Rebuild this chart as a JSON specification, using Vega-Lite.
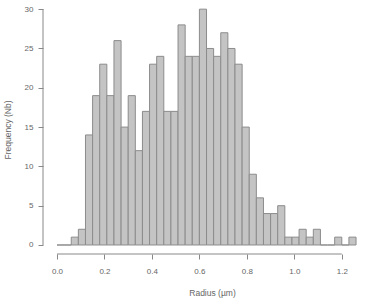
{
  "$schema": "https://vega.github.io/schema/vega-lite/v6.json",
  "width": 323,
  "height": 249,
  "autosize": {"type": "none"},
  "padding": {"left": 43, "top": 5, "right": 3, "bottom": 50},
  "background": "white",
  "config": {
    "view": {"stroke": null},
    "font": "Liberation Sans",
    "axis": {"grid": false, "domain": false, "tickColor": "#888888", "tickSize": 5, "labelColor": "#666666", "titleColor": "#666666", "labelFontSize": 8, "titleFontSize": 8.5, "titleFontWeight": "normal", "labelFont": "Liberation Sans", "titleFont": "Liberation Sans"}
  },
  "datasets": {
    "bins": [
      {"start": 0.00, "end": 0.03, "count": 0},
      {"start": 0.03, "end": 0.06, "count": 0},
      {"start": 0.06, "end": 0.09, "count": 1},
      {"start": 0.09, "end": 0.12, "count": 2},
      {"start": 0.12, "end": 0.15, "count": 14},
      {"start": 0.15, "end": 0.18, "count": 19},
      {"start": 0.18, "end": 0.21, "count": 23},
      {"start": 0.21, "end": 0.24, "count": 19},
      {"start": 0.24, "end": 0.27, "count": 26},
      {"start": 0.27, "end": 0.30, "count": 15},
      {"start": 0.30, "end": 0.33, "count": 19},
      {"start": 0.33, "end": 0.36, "count": 12},
      {"start": 0.36, "end": 0.39, "count": 17},
      {"start": 0.39, "end": 0.42, "count": 23},
      {"start": 0.42, "end": 0.45, "count": 24},
      {"start": 0.45, "end": 0.48, "count": 17},
      {"start": 0.48, "end": 0.51, "count": 17},
      {"start": 0.51, "end": 0.54, "count": 28},
      {"start": 0.54, "end": 0.57, "count": 24},
      {"start": 0.57, "end": 0.60, "count": 24},
      {"start": 0.60, "end": 0.63, "count": 30},
      {"start": 0.63, "end": 0.66, "count": 25},
      {"start": 0.66, "end": 0.69, "count": 24},
      {"start": 0.69, "end": 0.72, "count": 27},
      {"start": 0.72, "end": 0.75, "count": 25},
      {"start": 0.75, "end": 0.78, "count": 23},
      {"start": 0.78, "end": 0.81, "count": 15},
      {"start": 0.81, "end": 0.84, "count": 9},
      {"start": 0.84, "end": 0.87, "count": 6},
      {"start": 0.87, "end": 0.90, "count": 4},
      {"start": 0.90, "end": 0.93, "count": 4},
      {"start": 0.93, "end": 0.96, "count": 5},
      {"start": 0.96, "end": 0.99, "count": 1},
      {"start": 0.99, "end": 1.02, "count": 1},
      {"start": 1.02, "end": 1.05, "count": 2},
      {"start": 1.05, "end": 1.08, "count": 1},
      {"start": 1.08, "end": 1.11, "count": 2},
      {"start": 1.11, "end": 1.14, "count": 0},
      {"start": 1.14, "end": 1.17, "count": 0},
      {"start": 1.17, "end": 1.20, "count": 1},
      {"start": 1.20, "end": 1.23, "count": 0},
      {"start": 1.23, "end": 1.26, "count": 1}
    ]
  },
  "layer": [
    {
      "data": {"name": "bins"},
      "mark": {"type": "rect", "fill": "#c4c4c4", "stroke": "#8c8c8c", "strokeWidth": 1},
      "encoding": {
        "x": {"field": "start", "type": "quantitative",
              "scale": {"domain": [-0.059, 1.302], "nice": false, "zero": false},
              "axis": {"values": [0, 0.2, 0.4, 0.6, 0.8, 1.0, 1.2], "format": ".1f", "title": "Radius (µm)", "labelPadding": 8, "titlePadding": 13, "titleX": 169}},
        "x2": {"field": "end"},
        "y": {"field": "count", "type": "quantitative",
              "scale": {"domain": [-1.145, 30.53], "nice": false, "zero": false},
              "axis": {"values": [0, 5, 10, 15, 20, 25, 30], "title": "Frequency (Nb)", "labelPadding": 5, "titlePadding": 12}},
        "y2": {"datum": 0}
      }
    },
    {
      "data": {"values": [{"a": 0}]},
      "mark": {"type": "rule", "color": "#888888", "strokeWidth": 1},
      "encoding": {
        "x": {"datum": 0},
        "x2": {"datum": 1.2},
        "y": {"datum": -1.145}
      }
    },
    {
      "data": {"values": [{"a": 0}]},
      "mark": {"type": "rule", "color": "#888888", "strokeWidth": 1},
      "encoding": {
        "x": {"datum": -0.059},
        "y": {"datum": 0},
        "y2": {"datum": 30}
      }
    }
  ]
}
